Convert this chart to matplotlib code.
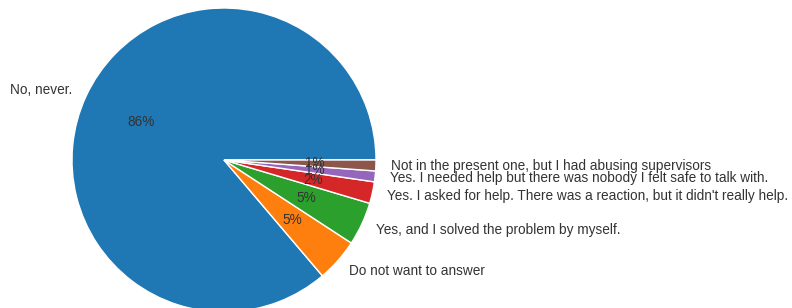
import matplotlib
matplotlib.use("Agg")
import matplotlib.pyplot as plt
import seaborn as sns

sns.set_theme(style="whitegrid")
plt.rcParams['font.family'] = ['Liberation Sans', 'DejaVu Sans']

# answers to "have you ever been abused by a supervisor?" (counts)
labels = ['No, never.',
          'Do not want to answer',
          'Yes, and I solved the problem by myself.',
          "Yes. I asked for help. There was a reaction, but it didn't really help.",
          'Yes. I needed help but there was nobody I felt safe to talk with.',
          'Not in the present one, but I had abusing supervisors']
counts = [75, 4, 4, 2, 1, 1]
colors = ['tab:blue', 'tab:orange', 'tab:green', 'tab:red', 'tab:purple', 'tab:brown']

fig = plt.figure(figsize=(7.92, 3.08), dpi=100)
# pie centre at (224,160) px, radius 152 px
ax = fig.add_axes([72 / 792, -4 / 308, 304 / 792, 304 / 308])
ax.pie(counts, labels=labels, autopct='%1.0f%%', colors=colors,
       textprops={'fontsize': 9.85, 'color': '.2'},
       wedgeprops={'edgecolor': 'white', 'linewidth': 1})
ax.set_xlim(-1, 1)
ax.set_ylim(-1, 1)
ax.set_aspect('equal')

fig.savefig('out.png', dpi=100)
